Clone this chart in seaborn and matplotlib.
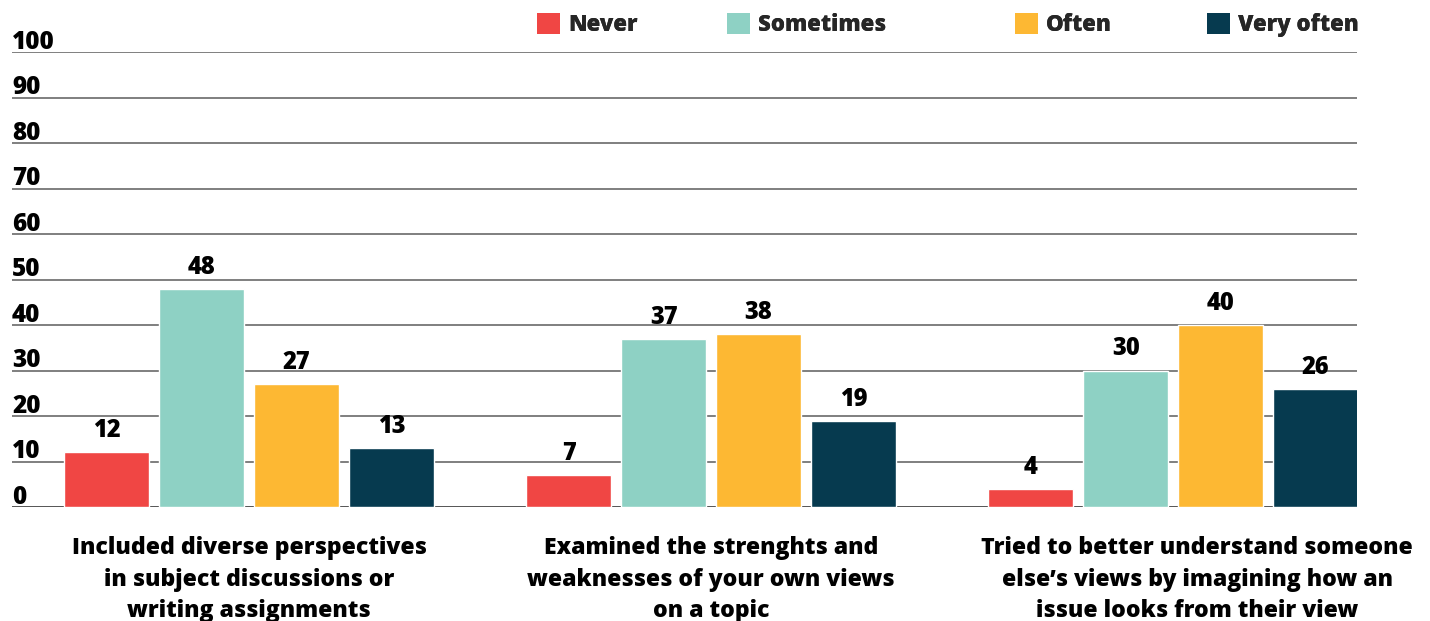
import matplotlib
matplotlib.use('Agg')
import matplotlib.pyplot as plt
import matplotlib.transforms as mtransforms
from matplotlib.patches import Patch
import seaborn as sns
import pandas as pd

categories = [
    "Included diverse perspectives\nin subject discussions or\nwriting assignments",
    "Examined the strenghts and\nweaknesses of your own views\non a topic",
    "Tried to better understand someone\nelse\u2019s views by imagining how an\nissue looks from their view",
]
series = ["Never", "Sometimes", "Often", "Very often"]
never = [12, 7, 4]
sometimes = [48, 37, 30]
often = [27, 38, 40]
very_often = [13, 19, 26]
yticks = [0, 10, 20, 30, 40, 50, 60, 70, 80, 90, 100]
colors = ["#F04644", "#8ED1C4", "#FDB833", "#063A4F"]

sns.set_theme(style="white")
plt.rcParams['font.family'] = ['Open Sans', 'DejaVu Sans']
plt.rcParams['font.weight'] = 'bold'
FW = 'heavy'

rows = []
for i, c in enumerate(categories):
    for s, vals in zip(series, [never, sometimes, often, very_often]):
        rows.append(dict(category=c, series=s, value=vals[i]))
df = pd.DataFrame(rows)

W, H = 1430, 621
fig = plt.figure(figsize=(W / 100, H / 100), dpi=100)
ax = fig.add_axes([12 / W, (H - 507) / H, (1357 - 12) / W, (507 - 52) / H])
sns.barplot(data=df, x='category', y='value', hue='series', order=categories,
            hue_order=series, palette=colors, width=0.822, gap=0.11,
            saturation=1, ax=ax, legend=False, errorbar=None)
ax.set_xlim(-0.513, 2.398)
ax.set_ylim(0, 100)
ax.set_yticks(yticks)
ax.yaxis.grid(True, color='#6a6a6a', linewidth=1.2)
ax.xaxis.grid(False)
ax.set_axisbelow(True)
for sp in ax.spines.values():
    sp.set_visible(False)
ax.axhline(0, color='black', lw=1.4, zorder=0.5)
ax.tick_params(axis='y', length=0, labelleft=False)
ax.set_xlabel('')
ax.set_ylabel('')

tr = mtransforms.blended_transform_factory(ax.transAxes, ax.transData)
for t in yticks:
    ax.annotate(str(t), xy=(0, t), xycoords=tr, xytext=(0, 2.2),
                textcoords='offset points', ha='left', va='baseline',
                fontsize=17.5, fontweight=FW, color='black')

for cont in ax.containers:
    ax.bar_label(cont, fmt='%d', padding=6.5, fontsize=17, fontweight=FW,
                 color='black')

ax.tick_params(axis='x', length=0, pad=21)
ax.set_xticks(range(len(categories)))
ax.set_xticklabels(categories, fontsize=16.6, fontweight=FW,
                   linespacing=1.42, color='black')
# third label sits slightly right of its group centre in the reference
lbl = ax.get_xticklabels()[2]
lbl.set_transform(lbl.get_transform() +
                  mtransforms.ScaledTranslation(24 / 100, 0, fig.dpi_scale_trans))

leg_x = [537, 727, 1015, 1207]
for s, col, lx in zip(series, colors, leg_x):
    lg = fig.legend(handles=[Patch(facecolor=col, edgecolor='none')], labels=[s],
                    loc='upper left', bbox_to_anchor=(lx / W, 1 - 13 / H),
                    frameon=False, fontsize=16, handlelength=1.05,
                    handleheight=1.1, handletextpad=0.35, borderpad=0,
                    borderaxespad=0)
    for txt in lg.get_texts():
        txt.set_fontweight(FW)
    fig.add_artist(lg)

fig.savefig('out.png', dpi=100, facecolor='white')
